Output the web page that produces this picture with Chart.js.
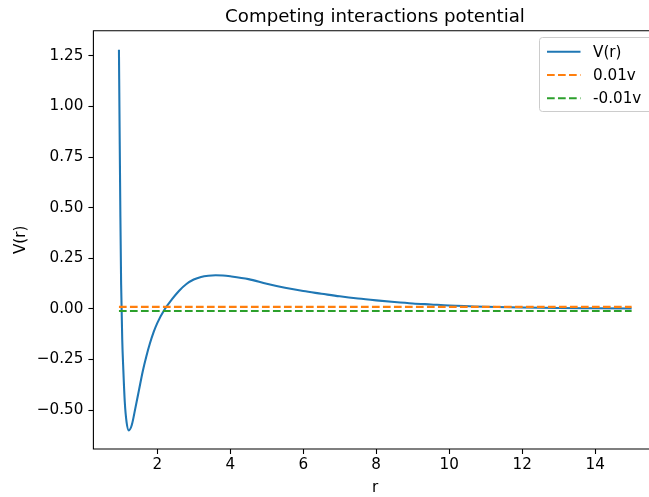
<!DOCTYPE html>
<html>
<head>
<meta charset="utf-8">
<script src="https://cdn.jsdelivr.net/npm/chart.js@4.4.0/dist/chart.umd.min.js"></script>
<style>
  html, body { margin: 0; padding: 0; overflow: hidden; background: #fff; }
  canvas { display: block; }
</style>
</head>
<body>
<canvas id="chart" width="649" height="497"></canvas>
<script>
// potential curve, sampled densely around the well
const rValues = [0.95, 0.97, 0.99, 1.01, 1.04, 1.07, 1.11, 1.16, 1.22, 1.3, 1.4, 1.5, 1.6, 1.7, 1.8, 1.9, 2.0, 2.2, 2.4, 2.6, 2.8,
                 3.0, 3.2, 3.4, 3.6, 3.8, 4.0, 4.5, 5.0, 5.5, 6.0, 6.5, 7.0, 7.5, 8.0, 8.5, 9.0, 9.5, 10, 11, 12, 13, 14, 15];
const vValues = [1.28, 0.85, 0.45, 0.12, -0.15, -0.30, -0.46, -0.56, -0.60, -0.575, -0.49, -0.40, -0.31, -0.235, -0.17, -0.115, -0.07, -0.003, 0.047, 0.090, 0.123,
                 0.145, 0.158, 0.164, 0.166, 0.165, 0.161, 0.147, 0.124, 0.104, 0.088, 0.075, 0.062, 0.051, 0.042, 0.034, 0.027, 0.022, 0.017, 0.011, 0.007, 0.004, 0.003, 0.002];

// reference levels
const levelR = [0.95, 15];
const upperLevel = [0.01, 0.01];
const lowerLevel = [-0.01, -0.01];

const xTicks = [2, 4, 6, 8, 10, 12, 14];
const yTicks = [-0.5, -0.25, 0, 0.25, 0.5, 0.75, 1.0, 1.25];
const seriesNames = ["V(r)", "0.01v", "-0.01v"];
const colors = ["#1f77b4", "#ff7f0e", "#2ca02c"];

const FONT = "'DejaVu Sans', sans-serif";
const FS = 15.2;
const DASH = [7.7, 3.3];

function pts(xs, ys) {
  return xs.map((x, i) => ({ x: x, y: ys[i] }));
}

function fmtY(v) {
  return v.toFixed(2).replace("-", "\u2212");
}

// frame (right edge runs past the canvas), title, axis labels and the legend box
const decor = {
  id: "decor",
  afterDraw(chart) {
    const ctx = chart.ctx;
    const a = chart.chartArea;
    const midX = 375;
    ctx.save();
    ctx.strokeStyle = "#000";
    ctx.lineWidth = 1.1;
    ctx.beginPath();
    ctx.moveTo(chart.width + 5, a.top);
    ctx.lineTo(a.left, a.top);
    ctx.lineTo(a.left, a.bottom);
    ctx.lineTo(chart.width + 5, a.bottom);
    ctx.stroke();

    ctx.fillStyle = "#000";
    ctx.font = "18.2px " + FONT;
    ctx.textAlign = "center";
    ctx.textBaseline = "alphabetic";
    ctx.fillText("Competing interactions potential", midX, 22);

    ctx.font = FS + "px " + FONT;
    ctx.fillText("r", midX, 492);

    ctx.save();
    ctx.translate(25, (a.top + a.bottom) / 2);
    ctx.rotate(-Math.PI / 2);
    ctx.fillText("V(r)", 0, 0);
    ctx.restore();

    // legend
    const bx = 539.5, by = 37.5, bw = 116, bh = 74, rad = 3;
    ctx.beginPath();
    ctx.roundRect(bx, by, bw, bh, rad);
    ctx.fillStyle = "rgba(255,255,255,0.8)";
    ctx.fill();
    ctx.strokeStyle = "#cccccc";
    ctx.lineWidth = 1;
    ctx.stroke();

    const rows = [51.7, 75, 98.3];
    ctx.textAlign = "left";
    ctx.textBaseline = "middle";
    seriesNames.forEach((name, i) => {
      ctx.beginPath();
      ctx.strokeStyle = colors[i];
      ctx.lineWidth = 2.08;
      ctx.setLineDash(i === 0 ? [] : DASH);
      ctx.moveTo(547, rows[i]);
      ctx.lineTo(580.5, rows[i]);
      ctx.stroke();
      ctx.setLineDash([]);
      ctx.fillStyle = "#000";
      ctx.fillText(name, 593, rows[i] + 1);
    });
    ctx.restore();
  }
};

new Chart(document.getElementById("chart"), {
  type: "scatter",
  data: {
    datasets: [
      {
        label: seriesNames[0],
        data: pts(rValues, vValues),
        showLine: true,
        borderColor: colors[0],
        borderWidth: 2.08,
        pointRadius: 0,
        cubicInterpolationMode: "monotone",
        order: 3
      },
      {
        label: seriesNames[1],
        data: pts(levelR, upperLevel),
        showLine: true,
        borderColor: colors[1],
        borderWidth: 2.08,
        borderDash: DASH,
        pointRadius: 0,
        order: 2
      },
      {
        label: seriesNames[2],
        data: pts(levelR, lowerLevel),
        showLine: true,
        borderColor: colors[2],
        borderWidth: 2.08,
        borderDash: DASH,
        pointRadius: 0,
        order: 1
      }
    ]
  },
  options: {
    responsive: false,
    animation: false,
    devicePixelRatio: 1,
    layout: { padding: { left: 0, top: 30.7, right: 0, bottom: 0 } },
    plugins: {
      legend: { display: false },
      title: { display: false },
      tooltip: { enabled: false }
    },
    scales: {
      x: {
        type: "linear",
        min: 0.25,
        max: 15.476,
        afterFit: s => { s.height = 48; },
        afterBuildTicks: s => { s.ticks = xTicks.map(v => ({ value: v })); },
        grid: { drawOnChartArea: false, drawTicks: true, tickLength: 5, tickWidth: 1.1, tickColor: "#000" },
        border: { display: false },
        ticks: { color: "#000", font: { family: FONT, size: FS }, padding: 2, maxRotation: 0, callback: v => String(v) }
      },
      y: {
        type: "linear",
        min: -0.692,
        max: 1.374,
        afterFit: s => { s.width = 93.4; },
        afterBuildTicks: s => { s.ticks = yTicks.map(v => ({ value: v })); },
        grid: { drawOnChartArea: false, drawTicks: true, tickLength: 5, tickWidth: 1.1, tickColor: "#000" },
        border: { display: false },
        ticks: { color: "#000", font: { family: FONT, size: FS }, padding: 5, callback: v => fmtY(v) }
      }
    }
  },
  plugins: [decor]
});
</script>
</body>
</html>
